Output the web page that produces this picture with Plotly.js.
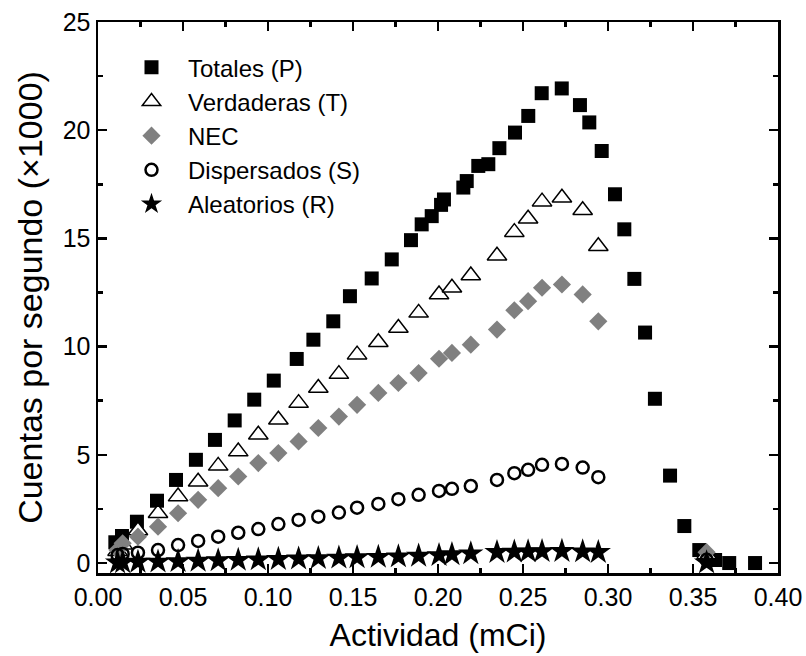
<!DOCTYPE html>
<html>
<head>
<meta charset="utf-8">
<script src="https://cdn.plot.ly/plotly-3.0.1.min.js"></script>
<style>html,body{margin:0;padding:0;background:#fff;}#chart{width:806px;height:656px;}</style>
</head>
<body>
<div id="chart"></div>
<script>
// Totales (P)
const xTotales = [0.0102, 0.0141, 0.0229, 0.0347, 0.0459, 0.0576, 0.0688, 0.0804, 0.0919, 0.1034,
  0.1169, 0.1267, 0.1384, 0.1482, 0.1610, 0.1728, 0.1841, 0.1904, 0.1963, 0.2018, 0.2035,
  0.2149, 0.2169, 0.2237, 0.2296, 0.2361, 0.2453, 0.2531, 0.2610, 0.2728, 0.2835, 0.2890,
  0.2963, 0.3041, 0.3096, 0.3155, 0.3218, 0.3276, 0.3365, 0.3449, 0.3537, 0.3630, 0.3713, 0.3865];
const yTotales = [0.96, 1.25, 1.91, 2.88, 3.84, 4.77, 5.69, 6.59, 7.55, 8.43,
  9.43, 10.32, 11.17, 12.33, 13.15, 14.03, 14.92, 15.65, 16.03, 16.55, 16.8,
  17.35, 17.65, 18.35, 18.43, 19.17, 19.89, 20.66, 21.71, 21.93, 21.16, 20.36,
  19.04, 17.04, 15.42, 13.13, 10.65, 7.59, 4.04, 1.71, 0.60, 0.14, 0.0, 0.0];

// Shared activity values for the other series
const xActividad = [0.0115, 0.0145, 0.0235, 0.0353, 0.0471, 0.0589, 0.0707, 0.0825, 0.0943, 0.1061,
  0.1180, 0.1296, 0.1417, 0.1524, 0.1649, 0.1767, 0.1886, 0.2006, 0.2082, 0.2193,
  0.2347, 0.2449, 0.2530, 0.2612, 0.2729, 0.2851, 0.2943, 0.3580];
const yVerdaderas = [0.55, 0.85, 1.50, 2.30, 3.07, 3.76, 4.49, 5.15, 5.93, 6.62,
  7.39, 8.09, 8.73, 9.63, 10.20, 10.86, 11.56, 12.41, 12.72, 13.29,
  14.20, 15.29, 15.91, 16.70, 16.88, 16.30, 14.64, 0.40];
const yNEC = [0.60, 0.91, 1.22, 1.68, 2.30, 2.92, 3.46, 4.00, 4.62, 5.08,
  5.62, 6.24, 6.77, 7.31, 7.86, 8.32, 8.78, 9.44, 9.71, 10.09,
  10.79, 11.68, 12.10, 12.72, 12.87, 12.41, 11.17, 0.50];
const yDispersados = [0.37, 0.42, 0.48, 0.60, 0.83, 1.02, 1.22, 1.40, 1.57, 1.80,
  1.99, 2.14, 2.33, 2.56, 2.73, 2.95, 3.15, 3.33, 3.43, 3.56,
  3.84, 4.15, 4.31, 4.54, 4.58, 4.41, 3.97, 0.15];
const yAleatorios = [0.02, 0.03, 0.05, 0.06, 0.08, 0.10, 0.12, 0.14, 0.16, 0.18,
  0.20, 0.22, 0.24, 0.26, 0.28, 0.30, 0.33, 0.36, 0.40, 0.44,
  0.50, 0.52, 0.53, 0.54, 0.55, 0.53, 0.50, 0.02];

const seriesNames = ['Totales (P)', 'Verdaderas (T)', 'NEC', 'Dispersados (S)', 'Aleatorios (R)'];

const traces = [
  {x: xTotales, y: yTotales, name: seriesNames[0], type: 'scatter', mode: 'markers',
   marker: {symbol: 'square', size: 14, color: '#000000'}},
  {x: xActividad, y: yVerdaderas, name: seriesNames[1], type: 'scatter', mode: 'markers',
   marker: {symbol: 'triangle-up', size: 17, color: '#ffffff', line: {color: '#000000', width: 1.5}}},
  {x: xActividad, y: yNEC, name: seriesNames[2], type: 'scatter', mode: 'markers',
   marker: {symbol: 'diamond', size: 14, color: '#808080'}},
  {x: xActividad, y: yDispersados, name: seriesNames[3], type: 'scatter', mode: 'markers',
   marker: {symbol: 'circle-open', size: 12, color: '#000000', line: {color: '#000000', width: 2.5}}},
  {x: xActividad, y: yAleatorios, name: seriesNames[4], type: 'scatter', mode: 'markers',
   marker: {symbol: 'star', size: 19, color: '#000000'}}
];

const layout = {
  width: 806, height: 656,
  margin: {l: 98, r: 28, t: 22, b: 83},
  paper_bgcolor: '#ffffff', plot_bgcolor: '#ffffff',
  font: {family: 'Liberation Sans, Arial, sans-serif', color: '#000000'},
  showlegend: true,
  legend: {x: 0.025, y: 0.958, xanchor: 'left', yanchor: 'top', bgcolor: 'rgba(0,0,0,0)',
           itemwidth: 63,
           font: {size: 24, family: 'Liberation Sans, Arial, sans-serif'}, tracegroupgap: 0, itemsizing: 'trace'},
  xaxis: {
    range: [0, 0.4], showgrid: false, zeroline: false,
    showline: true, linecolor: '#000000', linewidth: 2.5, mirror: 'allticks',
    ticks: 'inside', ticklen: 9, tickwidth: 2.5, tickcolor: '#000000',
    dtick: 0.05, tick0: 0, tickformat: '.2f',
    tickfont: {size: 25, family: 'Liberation Sans, Arial, sans-serif'},
    minor: {dtick: 0.025, ticks: 'inside', ticklen: 5, tickwidth: 2.5, tickcolor: '#000000'},
    title: {text: 'Actividad (mCi)', standoff: 14,
            font: {size: 32, family: 'Liberation Sans, Arial, sans-serif'}}
  },
  yaxis: {
    range: [-0.46, 25], showgrid: false, zeroline: false,
    showline: true, linecolor: '#000000', linewidth: 2.5, mirror: 'allticks',
    ticks: 'inside', ticklen: 9, tickwidth: 2.5, tickcolor: '#000000',
    dtick: 5, tick0: 0,
    tickfont: {size: 25, family: 'Liberation Sans, Arial, sans-serif'},
    minor: {dtick: 2.5, ticks: 'inside', ticklen: 5, tickwidth: 2.5, tickcolor: '#000000'},
    title: {text: 'Cuentas por segundo (×1000)', standoff: 10,
            font: {size: 34, family: 'Liberation Sans, Arial, sans-serif'}}
  }
};

Plotly.newPlot('chart', traces, layout, {displayModeBar: false, staticPlot: true});
</script>
</body>
</html>
